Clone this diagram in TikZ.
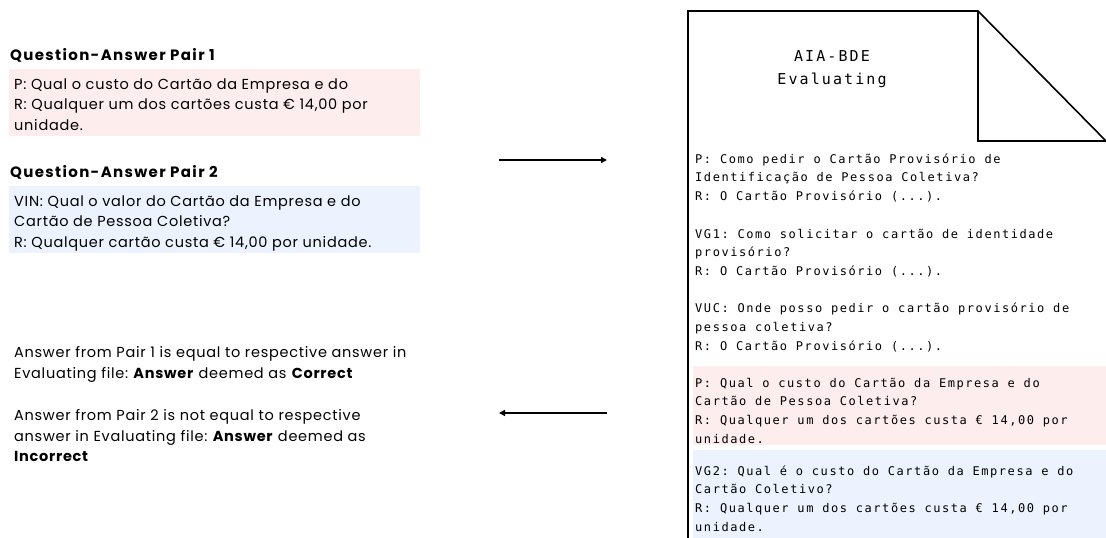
\documentclass[tikz,border=0pt]{standalone}
\usepackage{fontspec}
\usepackage{tikz}
\usetikzlibrary{arrows.meta}
\setmainfont{Poppins}[LetterSpace=5]
\newfontfamily\headfont[LetterSpace=9]{Poppins}
\newfontfamily\codefont[LetterSpace=13]{DejaVu Sans Mono}
\newfontfamily\titlefont[LetterSpace=14]{DejaVu Sans Mono}
\definecolor{qapink}{RGB}{253,237,237}
\definecolor{qablue}{RGB}{236,243,254}
\frenchspacing

\begin{document}
\begin{tikzpicture}[x=1pt,y=-1pt,
    heading/.style={anchor=base west,inner sep=0pt,font=\headfont\fontsize{15}{20.5}\selectfont\bfseries},
    qatext/.style={anchor=north west,inner sep=0pt,align=left,font=\fontsize{14.5}{20.5}\selectfont},
    codetext/.style={anchor=north west,inner sep=0pt,align=left,font=\codefont\fontsize{12}{18.7}\selectfont},
    flow/.style={line width=2pt,-{Triangle[length=6pt,width=6pt]}}]
    \useasboundingbox (0,0) rectangle (1106,538);

    % question-answer pairs
    \node[heading] (head1) at (10,60) {Question-Answer Pair 1};
    \fill[qapink] (9,69) rectangle (420,136);
    \node[qatext] (pair1) at (14,74.6) {\strut P: Qual o custo do Cartão da Empresa e do\\
        R: Qualquer um dos cartões custa € 14,00 por\\ unidade.};
    \node[heading] (head2) at (10,177) {Question-Answer Pair 2};
    \fill[qablue] (9,186) rectangle (420,253);
    \node[qatext] (pair2) at (14,191.6) {\strut VIN: Qual o valor do Cartão da Empresa e do\\
        Cartão de Pessoa Coletiva?\\ R: Qualquer cartão custa € 14,00 por unidade.};

    % results
    \node[qatext] (res1) at (14,343) {\strut Answer from Pair 1 is equal to respective answer in\\
        Evaluating file: \textbf{Answer} deemed as \textbf{Correct}};
    \node[qatext] (res2) at (14,406) {\strut Answer from Pair 2 is not equal to respective\\
        answer in Evaluating file: \textbf{Answer} deemed as\\ \textbf{Incorrect}};

    % evaluating file with folded corner
    \draw[line width=1.6pt] (688,538) -- (688,11) -- (978,11) -- (1106,141);
    \draw[line width=1.6pt] (978,11) -- (978,141) -- (1106,141);
    \node[anchor=north,inner sep=0pt,align=center,font=\titlefont\fontsize{15}{23}\selectfont]
        (title) at (832,45) {\strut AIA-BDE\\ Evaluating};
    \node[codetext] (entries) at (695,150) {\strut P: Como pedir o Cartão Provisório de\\
        Identificação de Pessoa Coletiva?\\ R: O Cartão Provisório (...).\\[18.7pt]
        VG1: Como solicitar o cartão de identidade\\ provisório?\\ R: O Cartão Provisório (...).\\[18.7pt]
        VUC: Onde posso pedir o cartão provisório de\\ pessoa coletiva?\\ R: O Cartão Provisório (...).};
    \fill[qapink] (693,366) rectangle (1106,445);
    \node[codetext] (match) at (695,374) {\strut P: Qual o custo do Cartão da Empresa e do\\
        Cartão de Pessoa Coletiva?\\ R: Qualquer um dos cartões custa € 14,00 por\\ unidade.};
    \fill[qablue] (693,450) rectangle (1106,538);
    \node[codetext] (variant) at (695,462) {\strut VG2: Qual é o custo do Cartão da Empresa e do\\
        Cartão Coletivo?\\ R: Qualquer um dos cartões custa € 14,00 por\\ unidade.};

    % arrows
    \coordinate (outL) at (499,160);
    \coordinate (outR) at (607,160);
    \coordinate (backR) at (607,413);
    \coordinate (backL) at (499,413);
    \draw[flow] (outL) -- (outR);
    \draw[flow] (backR) -- (backL);
\end{tikzpicture}
\end{document}
